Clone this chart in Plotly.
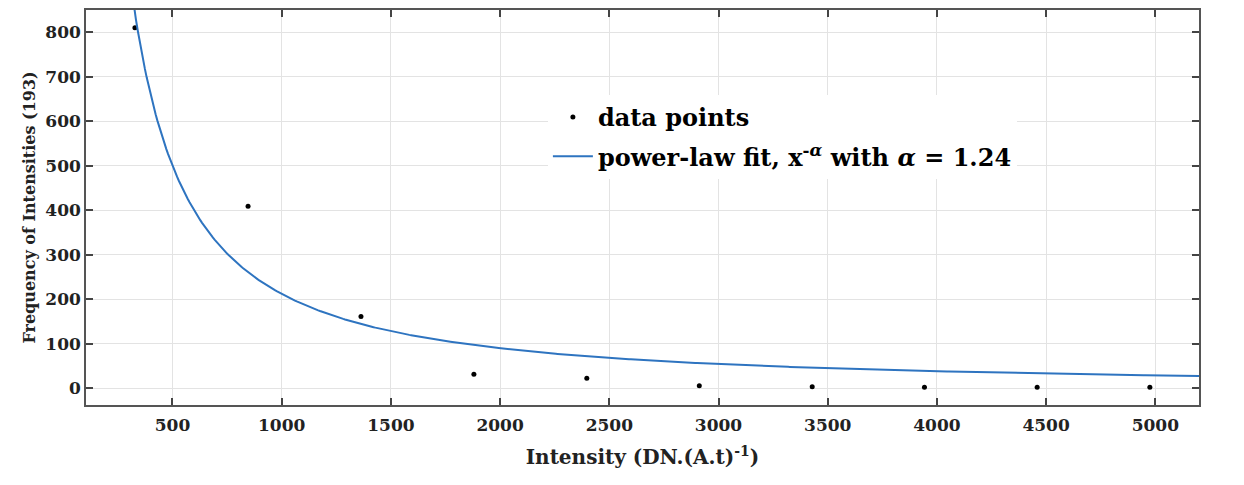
import numpy as np
import plotly.graph_objects as go

# data points
intensity = [328, 846, 1363, 1880, 2397, 2912, 3429, 3943, 4459, 4975]
frequency = [810, 409, 161, 31, 22, 5, 3, 2, 2, 2]

# power-law fit parameters (from legend) and amplitude
alpha = 1.24
amp = 500.0       # value of fit at x = 500
x_ref = 500.0

x_fit = np.linspace(300, 5200, 600)
y_fit = amp * (x_fit / x_ref) ** (-alpha)

x_ticks = [500, 1000, 1500, 2000, 2500, 3000, 3500, 4000, 4500, 5000]
y_ticks = [0, 100, 200, 300, 400, 500, 600, 700, 800]

FONT = "DejaVu Serif"

fig = go.Figure()
fig.add_trace(go.Scatter(
    x=intensity, y=frequency, mode="markers",
    marker=dict(color="black", size=5),
    name="data points", legendgroup="a"))
fig.add_trace(go.Scatter(
    x=x_fit, y=y_fit, mode="lines",
    line=dict(color="#2e74c0", width=2),
    name="power-law fit, x<sup>-<i>α</i></sup> with <i>α</i> = 1.24",
    legendgroup="b"))

axis_common = dict(
    showline=True, linecolor="#555", linewidth=1.5, mirror="ticks",
    ticks="inside", ticklen=7, tickcolor="#444", tickwidth=1.5,
    showgrid=True, gridcolor="#e3e3e3", gridwidth=1, zeroline=False,
    tickfont=dict(family=FONT, size=17, color="#222", weight="bold"),
)

fig.update_layout(
    width=1244, height=485,
    margin=dict(l=86, r=45, t=8, b=80),
    paper_bgcolor="white", plot_bgcolor="white",
    font=dict(family=FONT, color="#222"),
    xaxis=dict(range=[104, 5200], tickvals=x_ticks, ticklabelstandoff=4,
               title=dict(text="Intensity (DN.(A.t)<sup>-1</sup>)",
                          font=dict(family=FONT, size=20, weight="bold"),
                          standoff=16),
               **axis_common),
    yaxis=dict(range=[-38, 850], tickvals=y_ticks,
               title=dict(text="Frequency of Intensities (193)",
                          font=dict(family=FONT, size=16, weight="bold"),
                          standoff=6),
               **axis_common),
    legend=dict(x=0.415, y=0.785, xanchor="left", yanchor="top",
                bgcolor="white", borderwidth=0,
                font=dict(family=FONT, size=24, color="black", weight="bold"),
                tracegroupgap=5, itemwidth=40),
    showlegend=True,
)

fig.write_html("out.html")
